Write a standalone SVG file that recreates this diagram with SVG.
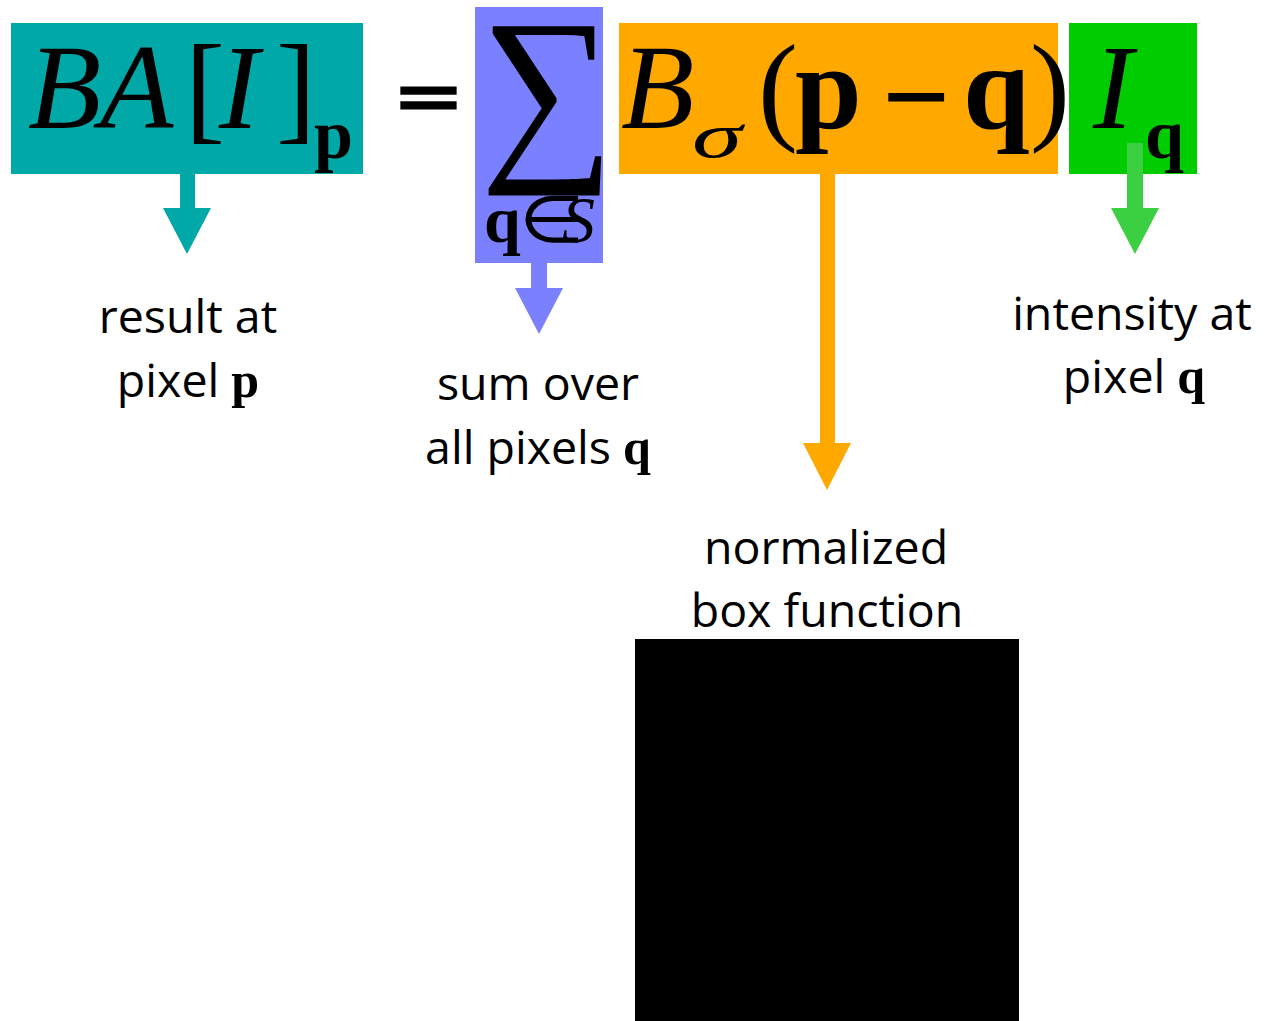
<svg xmlns="http://www.w3.org/2000/svg" width="1264" height="1021" viewBox="0 0 1264 1021">
<style>
.it{font-family:"Liberation Serif",serif;font-style:italic;fill:#000}
.rm{font-family:"Liberation Serif",serif;fill:#000}
.bd{font-family:"Liberation Serif",serif;font-weight:bold;fill:#000}
.lbl{font-family:"Open Sans",sans-serif;font-size:46.5px;fill:#000;text-anchor:middle}
.lb{font-family:"Liberation Serif",serif;font-weight:bold;font-size:50px}
</style>
<rect width="1264" height="1021" fill="#fff"/>
<g id="term-result">
<rect x="11" y="23" width="352" height="151" fill="#00A8A8"/>
<text class="it" font-size="120" x="28" y="128">B</text>
<text class="it" font-size="120" x="100" y="128">A</text>
<text class="rm" font-size="120" x="185" y="128">[</text>
<text class="it" font-size="120" x="219" y="128">I</text>
<text class="rm" font-size="120" x="276" y="128">]</text>
<text class="bd" font-size="70" x="314" y="158">p</text>
</g>
<g id="equals">
<text class="bd" font-size="120" stroke="#000" stroke-width="4.8" transform="translate(397,123) scale(0.93,0.62)" x="0" y="0">=</text>
</g>
<g id="term-sum">
<rect x="475" y="7" width="128" height="256" fill="#7B80FF"/>
<text class="rm" font-size="195" transform="translate(480,154) scale(0.965,1)" x="0" y="0">∑</text>
<text class="bd" font-size="66" x="484" y="242">q</text>
<text class="rm" font-size="68" transform="translate(519,242) scale(1.1,0.95)" x="0" y="0">∈</text>
<text class="it" font-size="66" x="562" y="242">S</text>
</g>
<g id="term-kernel">
<rect x="619" y="23" width="439" height="151" fill="#FFA800"/>
<text class="it" font-size="120" x="621" y="128">B</text>
<text class="it" font-size="70" transform="translate(692,157) scale(1.45,0.9)" x="0" y="0">σ</text>
<text class="rm" font-size="120" x="758" y="128">(</text>
<text class="bd" font-size="120" x="795" y="128">p</text>
<text class="bd" font-size="120" x="882" y="137">−</text>
<text class="bd" font-size="120" x="963" y="128">q</text>
<text class="rm" font-size="120" x="1030" y="128">)</text>
</g>
<g id="term-intensity">
<rect x="1069" y="23" width="128" height="151" fill="#00CC00"/>
<text class="it" font-size="120" x="1093" y="128">I</text>
<text class="bd" font-size="70" x="1145" y="158">q</text>
</g>
<g id="connectors">
<path d="M180 174H195V208H211L187 254L163 208H180Z" fill="#00A8A8"/>
<path d="M531 263H547V288H563L539 334L515 288H531Z" fill="#7B80FF"/>
<path d="M820 174H835V443H851L827 490L803 443H820Z" fill="#FFA800"/>
<path d="M1127 143H1143V208H1159L1135 254L1111 208H1127Z" fill="#3AD042"/>
</g>
<g id="label-result">
<text class="lbl" x="188" y="333">result at</text>
<text class="lbl" x="188" y="397">pixel <tspan class="lb">p</tspan></text>
</g>
<g id="label-sum">
<text class="lbl" x="538" y="400">sum over</text>
<text class="lbl" x="538" y="464">all pixels <tspan class="lb">q</tspan></text>
</g>
<g id="label-intensity">
<text class="lbl" x="1132" y="330">intensity at</text>
<text class="lbl" x="1134" y="393">pixel <tspan class="lb">q</tspan></text>
</g>
<g id="label-kernel">
<text class="lbl" x="826" y="564">normalized</text>
<text class="lbl" x="827" y="627">box function</text>
</g>
<g id="box-function">
<rect x="635" y="639" width="384" height="382" fill="#000"/>
</g>
</svg>
